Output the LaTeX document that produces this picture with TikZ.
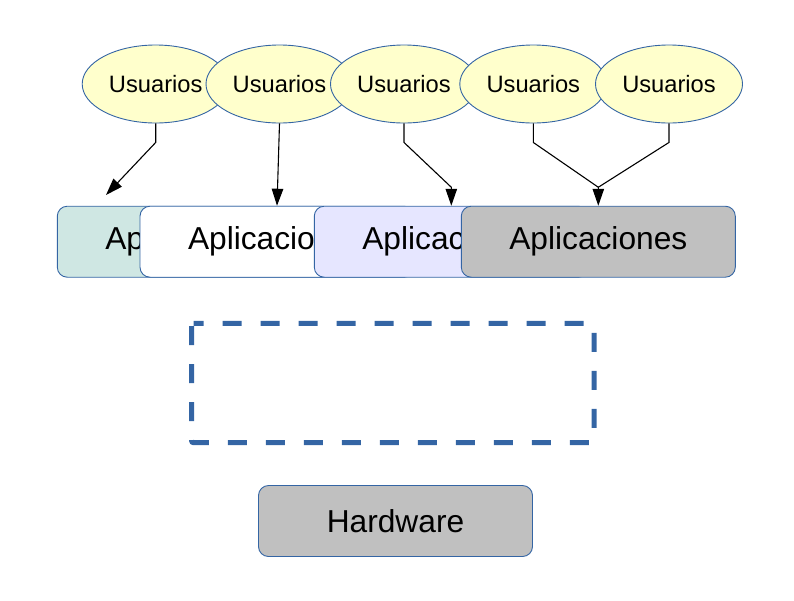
\documentclass[tikz,border=0pt]{standalone}
\usepackage{fontspec}
\setmainfont{Liberation Sans}
\usetikzlibrary{shapes.geometric,arrows.meta,calc}
\definecolor{edge}{HTML}{3465A4}
\definecolor{userfill}{HTML}{FFFFCC}
\definecolor{tealfill}{HTML}{CFE7E3}
\definecolor{lavfill}{HTML}{E6E6FF}
\definecolor{greyfill}{HTML}{C0C0C0}
\tikzset{
  user/.style={ellipse, draw=edge, line width=0.9pt, fill=userfill,
    minimum width=147pt, minimum height=78pt, inner sep=0pt, font=\fontsize{23.7}{26}\selectfont},
  appbox/.style={rectangle, rounded corners=10pt, draw=edge, line width=0.9pt,
    minimum width=274pt, minimum height=71pt, inner sep=0pt, font=\fontsize{31.7}{34}\selectfont},
  link/.style={draw=black, line width=1.1pt, -{Triangle[length=17pt,width=11.5pt]}},
  plain/.style={draw=black, line width=1.1pt},
  layerframe/.style={draw=edge, line width=5pt, dash pattern=on 19pt off 19pt,
    dash phase=9pt, rounded corners=2pt},
}
\begin{document}
\begin{tikzpicture}[x=1pt,y=-1pt]
\useasboundingbox (0,0) rectangle (794,600);

% application layer
\node[appbox, fill=tealfill] (a1) at (194.3,241.7) {Aplicaciones};
\node[appbox, fill=white]   (a2) at (277,241.7) {Aplicaciones};
\node[appbox, fill=lavfill] (a3) at (451.3,241.7) {Aplicaciones};
\node[appbox, fill=greyfill](a4) at (598.3,241.7) {Aplicaciones};

% users
\node[user] (u1) at (155.7,84) {Usuarios};
\node[user] (u2) at (279.5,84) {Usuarios};
\node[user] (u3) at (404,84) {Usuarios};
\node[user] (u4) at (533.3,84) {Usuarios};
\node[user] (u5) at (669,84) {Usuarios};

% connectors
\coordinate (t1) at (106,195);
\draw[link] (u1.south) -- ++(0,19) -- (t1);
\draw[link] (u2.south) -- (a2.north);
\draw[link] (u3.south) -- ++(0,19) -- ($(a3.north)+(0,-18.5)$) -- (a3.north);
\coordinate (m4) at ($(a4.north)+(0,-18.5)$);
\draw[link] (u4.south) -- ++(0,19) -- (m4) -- (a4.north);
\draw[plain] (u5.south) -- ++(0,19) -- (m4);

% empty middle layer, dashed outline drawn clockwise from the top-left corner
\node[rectangle, minimum width=402pt, minimum height=119pt, inner sep=0pt]
  (mid) at (392.8,383) {};
\draw[layerframe] (mid.north west) -- (mid.north east) -- (mid.south east)
  -- (mid.south west) -- cycle;

% hardware
\node[appbox, fill=greyfill] (hw) at (395.5,521) {Hardware};
\end{tikzpicture}
\end{document}
